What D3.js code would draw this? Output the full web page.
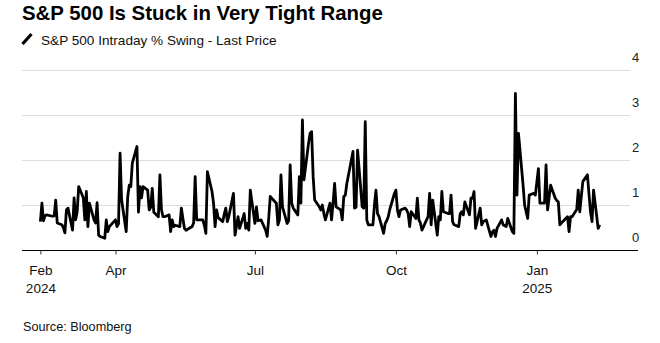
<!DOCTYPE html>
<html><head><meta charset="utf-8">
<script src="https://cdn.jsdelivr.net/npm/d3@7"></script>
<style>
body{margin:0;background:#fff;}
svg{display:block;font-family:"Liberation Sans",Arial,Helvetica,sans-serif;}
</style></head><body>
<svg id="chart" width="660" height="343"></svg>
<script>
// ---- data ----
const titleText = "S&P 500 Is Stuck in Very Tight Range";
const seriesName = "S&P 500 Intraday % Swing - Last Price";
const sourceText = "Source: Bloomberg";
const startDate = "2024-02-12";
const endDate = "2025-02-11";
const marketHolidays = ["2024-02-19","2024-03-29","2024-05-27","2024-06-19","2024-07-04","2024-09-02","2024-11-28","2024-12-25","2025-01-01","2025-01-09","2025-01-20"];
const swingValues = [
  // Feb 2024
  0.63,1.04,0.65,0.76,0.78,0.75,0.76,1.11,0.60,0.56,0.50,0.38,0.89,
  // Mar
  0.93,0.44,1.16,0.67,0.85,1.41,1.16,0.67,1.30,0.52,1.04,0.67,0.60,1.05,0.33,0.30,0.26,0.67,0.41,0.52,
  // Apr
  0.67,0.52,0.58,2.15,1.11,0.41,1.19,1.44,1.41,1.93,2.30,0.84,1.41,1.16,1.41,1.33,0.89,0.95,1.37,0.84,0.74,1.67,
  // May
  0.90,0.74,0.74,0.78,0.41,0.67,0.52,0.55,0.52,0.93,0.70,0.48,0.44,0.50,0.52,0.60,1.63,0.67,0.67,0.55,0.37,1.74,
  // Jun
  1.30,1.04,0.52,0.89,0.72,0.63,0.80,0.93,0.63,0.75,1.26,0.33,0.74,0.48,0.81,0.48,0.59,0.44,1.33,
  // Jul
  0.59,0.96,0.65,0.67,0.44,0.30,0.70,1.19,1.15,1.04,0.56,0.67,1.67,0.96,0.59,0.65,1.89,1.04,0.93,0.78,1.63,1.04,
  // Aug
  2.89,1.56,2.37,2.59,2.63,1.63,1.11,0.96,0.89,1.00,0.81,0.67,1.04,0.67,1.04,1.48,0.96,0.89,0.67,1.19,1.22,1.48,
  // Sep
  2.19,0.93,0.95,2.22,0.96,0.93,2.85,0.67,0.56,0.56,1.00,1.33,0.81,0.74,0.37,0.59,0.65,0.74,0.90,1.25,
  // Oct
  1.33,0.89,0.74,0.89,0.93,0.89,0.81,0.52,0.85,0.70,1.15,0.67,0.60,0.44,0.67,0.74,1.26,0.56,1.11,0.33,0.74,0.67,1.30,
  // Nov
  0.85,0.81,0.81,1.22,0.63,0.56,0.52,0.81,0.85,0.78,1.07,0.78,1.15,1.15,1.30,0.48,0.93,0.56,0.63,0.67,
  // Dec
  0.30,0.40,0.44,0.30,0.48,0.67,0.56,0.54,0.52,0.70,0.41,0.37,3.48,1.22,2.59,1.44,1.00,0.70,1.22,1.26,1.22,
  // Jan 2025
  1.81,1.04,1.04,1.89,0.89,1.44,1.15,1.10,1.07,0.56,0.60,0.74,0.41,0.74,0.74,0.90,1.33,0.85,1.19,1.52,
  // Feb 2025
  1.67,1.25,0.85,0.63,1.33,0.48,0.56
];
const yTickValues = [0,1,2,3,4];
const xTickDates = ["2024-02-12","2024-04-01","2024-07-01","2024-10-01","2025-01-01"];
const xTickLabels = [["Feb","2024"],["Apr"],["Jul"],["Oct"],["Jan","2025"]];
const xDomain = ["2024-01-31","2025-03-08"];

// ---- build ----
const parse = d3.timeParse("%Y-%m-%d");
const fmt = d3.timeFormat("%Y-%m-%d");
const hol = new Set(marketHolidays);
const tradingDays = d3.timeDay.range(parse(startDate), d3.timeDay.offset(parse(endDate), 1))
  .filter(d => d.getDay() !== 0 && d.getDay() !== 6 && !hol.has(fmt(d)));
const data = tradingDays.map((d, i) => ({date: d, value: swingValues[i]})).filter(d => d.value != null);

const svg = d3.select("#chart");
const plotLeft = 22, plotRight = 638, plotTop = 70, plotBottom = 250;

const x = d3.scaleTime().domain(xDomain.map(parse)).range([plotLeft, plotRight]);
const y = d3.scaleLinear().domain([0, 4]).range([plotBottom, plotTop]);

// gridlines
svg.append("g")
  .selectAll("line")
  .data(yTickValues.filter(v => v > 0))
  .join("line")
  .attr("x1", plotLeft).attr("x2", 630)
  .attr("y1", d => y(d) + 0.5).attr("y2", d => y(d) + 0.5)
  .attr("stroke", "#dedede").attr("stroke-width", 1);

// y axis labels (right)
const yAxis = svg.append("g")
  .attr("transform", `translate(631,0)`)
  .call(d3.axisRight(y).tickValues(yTickValues).tickSize(0).tickPadding(0).tickFormat(d3.format("d")));
yAxis.select(".domain").remove();
yAxis.selectAll("text")
  .attr("dy", "-8.5")
  .attr("x", 1)
  .attr("font-size", "13px")
  .attr("font-family", "Liberation Sans, Arial, sans-serif")
  .attr("fill", "#222");

// x axis
const xAxis = svg.append("g")
  .attr("transform", `translate(0,${plotBottom + 0.5})`)
  .call(d3.axisBottom(x).tickValues(xTickDates.map(parse)).tickSize(4).tickFormat(""));
xAxis.select(".domain").attr("stroke", "#000").attr("d", `M${plotLeft},0H${plotRight}`);
xAxis.selectAll(".tick line").attr("stroke", "#333");
xAxis.selectAll(".tick").each(function(d, i) {
  const g = d3.select(this);
  xTickLabels[i].forEach((lab, j) => {
    g.append("text")
      .attr("y", 24.5 + j * 18)
      .attr("text-anchor", "middle")
      .attr("font-size", "13.5px")
      .attr("font-family", "Liberation Sans, Arial, sans-serif")
      .attr("fill", "#111")
      .text(lab);
  });
});

// line
svg.append("path")
  .datum(data)
  .attr("fill", "none")
  .attr("stroke", "#000")
  .attr("stroke-width", 2.8)
  .attr("stroke-linejoin", "round")
  .attr("d", d3.line().x(d => x(d.date)).y(d => y(d.value)));

// title & legend
svg.append("text")
  .attr("x", 22).attr("y", 19.5)
  .attr("font-size", "20.4px").attr("font-weight", "bold")
  .attr("fill", "#000")
  .text(titleText);
svg.append("line")
  .attr("x1", 22.5).attr("y1", 44).attr("x2", 31.5).attr("y2", 34)
  .attr("stroke", "#000").attr("stroke-width", 3.2);
svg.append("text")
  .attr("x", 41).attr("y", 44.5)
  .attr("font-size", "13.6px")
  .attr("fill", "#111")
  .text(seriesName);

// source
svg.append("text")
  .attr("x", 23).attr("y", 330.5)
  .attr("font-size", "12.7px")
  .attr("fill", "#111")
  .text(sourceText);
</script>
</body></html>
